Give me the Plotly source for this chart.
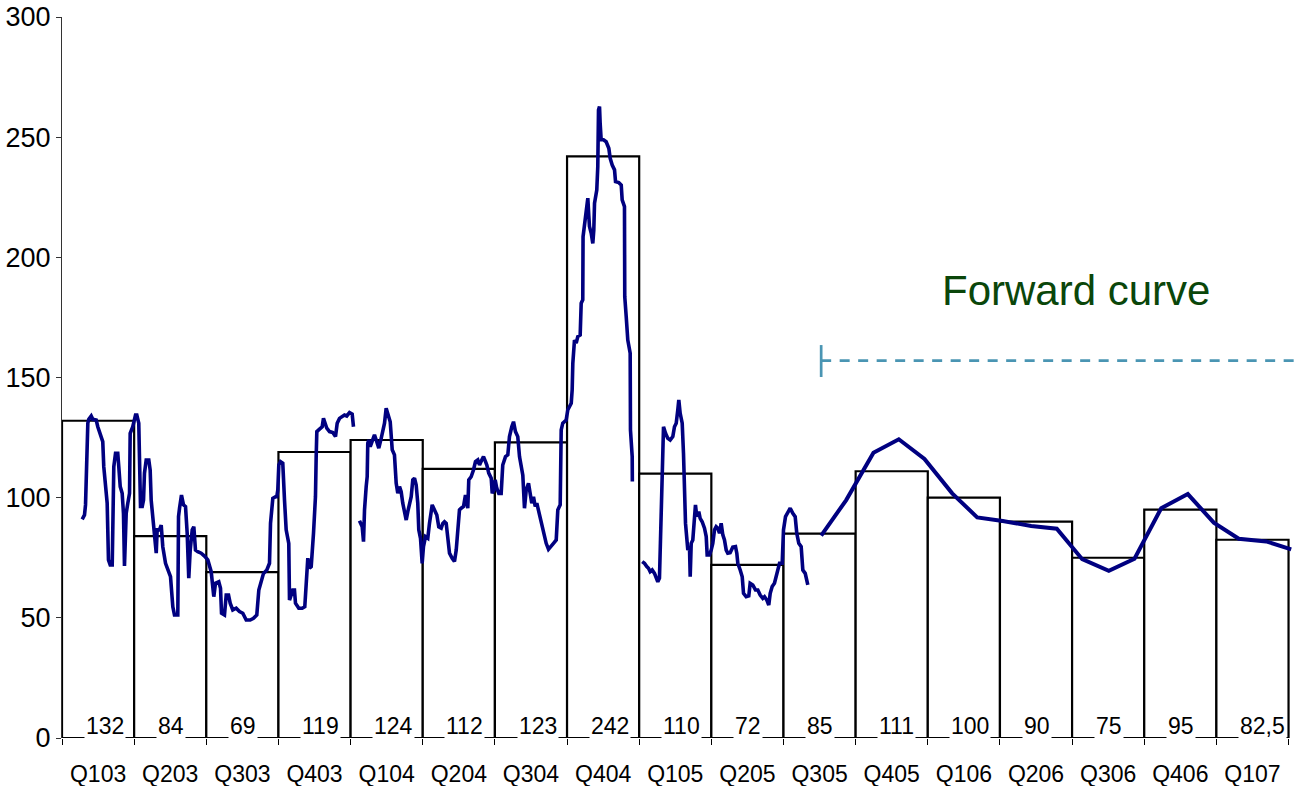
import plotly.graph_objects as go

# Quarter categories and the average price per quarter (bars)
quarters = ["Q103", "Q203", "Q303", "Q403", "Q104", "Q204", "Q304", "Q404", "Q105",
            "Q205", "Q305", "Q405", "Q106", "Q206", "Q306", "Q406", "Q107"]
quarter_avg = [132, 84, 69, 119, 124, 112, 123, 242, 110, 72, 85, 111, 100, 90, 75, 95, 82.5]

# Daily price history, x measured in quarter units (0 = middle of Q103)
hist1_x = [-0.220, -0.188, -0.174, -0.165, -0.151, -0.142, -0.129, -0.095, -0.073, -0.026,
           -0.004, 0.043, 0.065, 0.079, 0.103, 0.126, 0.144, 0.168, 0.196, 0.204,
           0.218, 0.242, 0.273, 0.287, 0.307, 0.334, 0.352, 0.366, 0.376, 0.390,
           0.412, 0.436, 0.445, 0.481, 0.519, 0.537, 0.564, 0.574, 0.588, 0.612,
           0.630, 0.643, 0.667, 0.703, 0.722, 0.736, 0.758, 0.782, 0.806, 0.819,
           0.851, 0.875, 0.897, 0.935, 0.966, 1.004, 1.036, 1.059, 1.105, 1.115,
           1.129, 1.156, 1.184, 1.212, 1.235, 1.257, 1.277, 1.305, 1.327, 1.350,
           1.382, 1.429, 1.475, 1.521, 1.568, 1.590, 1.604, 1.627, 1.673, 1.697,
           1.711, 1.752, 1.776, 1.808, 1.831, 1.867, 1.914, 1.960, 2.006, 2.053,
           2.108, 2.154, 2.200, 2.228, 2.261, 2.293, 2.339, 2.376, 2.390, 2.422,
           2.459, 2.477, 2.491, 2.505, 2.528, 2.560, 2.584, 2.607, 2.643, 2.653,
           2.685, 2.699, 2.722, 2.736, 2.782, 2.829, 2.865, 2.885, 2.907, 2.930,
           2.954, 2.986, 3.013, 3.023, 3.032, 3.069, 3.106, 3.124, 3.148, 3.170,
           3.208, 3.253, 3.291, 3.314, 3.346, 3.384, 3.415, 3.447, 3.485, 3.522,
           3.540]
hist1_y = [91.0, 92.8, 97.0, 108.7, 115.7, 131.0, 132.6, 134.0, 132.6, 132.3,
           129.5, 125.4, 123.3, 112.9, 103.2, 97.7, 74.1, 72.0, 72.0, 86.6,
           112.9, 118.5, 118.5, 112.9, 104.6, 101.8, 93.5, 71.6, 86.6, 93.5,
           97.7, 101.8, 126.8, 129.5, 134.4, 134.4, 131.0, 117.1, 96.3, 96.3,
           99.0, 110.2, 115.7, 115.7, 111.5, 99.0, 92.1, 87.9, 76.9, 86.6,
           86.6, 88.6, 79.6, 72.7, 69.9, 67.1, 54.6, 51.2, 51.2, 92.1,
           95.6, 101.1, 97.0, 96.3, 85.2, 66.5, 78.2, 86.6, 87.9, 78.2,
           77.5, 76.9, 75.7, 74.1, 69.2, 64.4, 58.8, 64.4, 65.0, 62.3,
           51.9, 51.2, 59.5, 59.5, 56.1, 53.3, 54.0, 52.6, 51.9, 49.1,
           49.1, 49.8, 51.2, 61.6, 65.0, 68.5, 69.9, 72.7, 89.3, 99.7,
           100.4, 100.4, 103.2, 113.6, 115.0, 114.3, 99.0, 86.6, 81.0, 57.4,
           60.2, 61.6, 61.6, 56.1, 54.0, 54.0, 54.6, 67.1, 74.8, 70.6,
           71.3, 85.2, 100.4, 117.1, 127.5, 128.5, 129.5, 133.0, 131.0, 128.9,
           127.5, 127.1, 125.4, 131.0, 133.0, 134.0, 134.4, 134.0, 135.4, 134.8,
           129.5]

hist2_x = [3.623, 3.661, 3.679, 3.693, 3.716, 3.730, 3.738, 3.752, 3.772, 3.799,
           3.831, 3.855, 3.891, 3.924, 3.946, 3.970, 3.993, 4.016, 4.049, 4.077,
           4.108, 4.132, 4.154, 4.178, 4.201, 4.223, 4.247, 4.271, 4.293, 4.316,
           4.340, 4.362, 4.386, 4.409, 4.431, 4.445, 4.469, 4.492, 4.510, 4.538,
           4.570, 4.593, 4.631, 4.663, 4.695, 4.722, 4.756, 4.778, 4.801, 4.825,
           4.847, 4.871, 4.908, 4.940, 4.964, 4.986, 5.009, 5.033, 5.065, 5.092,
           5.124, 5.138, 5.171, 5.203, 5.231, 5.263, 5.287, 5.318, 5.342, 5.370,
           5.388, 5.415, 5.449, 5.463, 5.485, 5.504, 5.526, 5.554, 5.587, 5.609,
           5.647, 5.679, 5.702, 5.734, 5.758, 5.785, 5.817, 5.841, 5.864, 5.887,
           5.910, 5.934, 5.966, 5.989, 6.011, 6.035, 6.059, 6.081, 6.104, 6.128,
           6.150, 6.178, 6.211, 6.243, 6.280, 6.312, 6.350, 6.372, 6.405, 6.419,
           6.441, 6.488, 6.510, 6.558, 6.571, 6.580, 6.603, 6.627, 6.649, 6.682,
           6.696, 6.718, 6.722, 6.742, 6.765, 6.788, 6.801, 6.811, 6.835, 6.857,
           6.871, 6.881, 6.912, 6.926, 6.936, 6.950, 6.959, 6.973, 7.005, 7.042,
           7.079, 7.098, 7.126, 7.158, 7.172, 7.217, 7.251, 7.264, 7.296, 7.300,
           7.320, 7.342, 7.375, 7.379, 7.403, 7.405]
hist2_y = [90.4, 87.9, 81.7, 94.9, 104.6, 108.7, 122.6, 124.0, 121.2, 124.0,
           126.1, 124.0, 120.6, 124.7, 127.5, 131.0, 137.2, 135.1, 131.6, 119.9,
           117.8, 106.0, 101.8, 104.6, 102.5, 97.7, 93.5, 90.7, 94.2, 97.0,
           100.4, 107.4, 108.1, 105.3, 97.7, 86.6, 83.1, 72.7, 79.6, 83.8,
           83.1, 89.3, 97.0, 94.9, 92.8, 87.9, 87.3, 89.3, 90.0, 89.3,
           83.8, 76.9, 74.8, 73.4, 78.2, 85.9, 94.9, 95.6, 96.3, 101.1,
           95.6, 107.4, 108.7, 111.5, 115.0, 115.7, 113.6, 115.7, 117.1, 115.0,
           113.6, 110.2, 108.1, 101.8, 103.2, 107.4, 103.9, 101.8, 101.8, 113.6,
           117.1, 117.8, 125.4, 129.5, 131.6, 127.5, 125.4, 117.1, 113.6, 109.4,
           95.6, 103.2, 106.0, 100.4, 97.7, 100.4, 96.3, 97.7, 94.9, 92.1,
           87.9, 85.2, 81.0, 78.5, 79.6, 81.0, 82.4, 94.9, 97.0, 128.2,
           131.0, 132.3, 136.5, 139.3, 144.8, 155.9, 165.6, 164.3, 167.0, 167.7,
           180.9, 182.3, 208.6, 214.2, 220.4, 224.6, 217.6, 212.8, 210.0, 205.8,
           211.4, 222.5, 228.0, 237.7, 261.3, 262.7, 255.8, 248.9, 248.9, 248.1,
           245.4, 241.2, 238.4, 236.4, 231.5, 231.1, 230.1, 223.9, 221.1, 183.6,
           175.3, 165.6, 160.1, 128.2, 117.1, 106.7]

hist3_x = [7.542, 7.573, 7.605, 7.629, 7.652, 7.680, 7.712, 7.736, 7.758, 7.781,
           7.791, 7.805, 7.813, 7.819, 7.837, 7.865, 7.896, 7.930, 7.966, 7.989,
           8.013, 8.035, 8.049, 8.068, 8.096, 8.114, 8.128, 8.142, 8.174, 8.197,
           8.207, 8.221, 8.243, 8.266, 8.280, 8.298, 8.326, 8.345, 8.373, 8.405,
           8.429, 8.442, 8.474, 8.498, 8.520, 8.544, 8.567, 8.589, 8.613, 8.636,
           8.659, 8.682, 8.706, 8.728, 8.761, 8.797, 8.835, 8.853, 8.867, 8.900,
           8.928, 8.946, 8.983, 9.019, 9.038, 9.074, 9.112, 9.144, 9.177, 9.213,
           9.237, 9.269, 9.296, 9.316, 9.343, 9.375, 9.399, 9.421, 9.445, 9.482,
           9.500, 9.528, 9.559, 9.593, 9.629, 9.662, 9.684, 9.712, 9.745, 9.768,
           9.801, 9.815, 9.837]
hist3_y = [73.4, 72.7, 71.3, 70.6, 69.2, 69.9, 68.5, 67.1, 65.0, 66.5,
           78.2, 89.3, 110.2, 119.8, 129.5, 126.8, 124.7, 124.0, 125.4, 129.5,
           131.0, 136.5, 140.7, 135.1, 131.0, 118.5, 103.2, 89.3, 78.2, 79.6,
           67.1, 81.0, 82.4, 89.3, 97.0, 92.1, 94.2, 91.4, 90.0, 87.3,
           83.8, 76.2, 76.2, 78.2, 81.0, 86.6, 87.9, 87.3, 85.2, 89.3,
           84.5, 82.4, 78.2, 76.9, 77.1, 79.4, 79.6, 76.9, 72.7, 69.9,
           67.1, 60.2, 58.8, 59.1, 64.4, 63.7, 61.6, 61.6, 59.5, 58.1,
           58.8, 57.4, 55.3, 60.2, 63.0, 64.4, 67.1, 70.6, 72.7, 72.7,
           86.6, 92.1, 93.5, 95.6, 93.5, 92.1, 85.2, 81.0, 79.6, 69.9,
           68.5, 65.7, 63.7]

# Monthly forward curve
fwd_x = [10.022, 10.369, 10.747, 11.098, 11.454, 11.838, 12.185, 12.539, 12.933, 13.288,
         13.640, 14.009, 14.365, 14.735, 15.104, 15.464, 15.810, 16.190, 16.537]
fwd_y = [84.2, 99.0, 118.7, 124.3, 116.1, 101.8, 91.8, 90.3, 88.2, 87.1,
         74.4, 69.6, 74.6, 95.6, 101.5, 89.6, 82.9, 81.8, 78.5]

# Marker showing where the forward curve begins
FWD_MARK_LEVEL = 157
FWD_MARK_SPAN = (150.2, 163.5)

X_MIN, X_MAX = -0.5, 16.645
FONT = "Liberation Sans, Arial, sans-serif"
NAVY = "#000080"


def fmt_value(v):
    return str(int(v)) if float(v).is_integer() else str(v).replace(".", ",")


history_x = hist1_x + [None] + hist2_x + [None] + hist3_x
history_y = hist1_y + [None] + hist2_y + [None] + hist3_y

fig = go.Figure()

fig.add_trace(go.Bar(
    x=list(range(len(quarters))), y=quarter_avg, width=1,
    marker=dict(color="white", line=dict(color="black", width=2.2)),
    cliponaxis=False, hoverinfo="skip", showlegend=False,
))

fig.add_trace(go.Scatter(
    x=history_x, y=history_y, mode="lines", connectgaps=False,
    line=dict(color=NAVY, width=3.6), showlegend=False,
))

fig.add_trace(go.Scatter(
    x=fwd_x, y=fwd_y, mode="lines",
    line=dict(color=NAVY, width=4), showlegend=False,
))

# Dashed "forward" bracket
fig.add_trace(go.Scatter(
    x=[fwd_x[0], X_MAX], y=[FWD_MARK_LEVEL, FWD_MARK_LEVEL], mode="lines",
    line=dict(color="#4a95b3", width=2.7, dash="10px,8.5px"), showlegend=False,
))
fig.add_trace(go.Scatter(
    x=[fwd_x[0], fwd_x[0]], y=list(FWD_MARK_SPAN), mode="lines",
    line=dict(color="#4a95b3", width=2.7), showlegend=False,
))

# Value labels sitting on the baseline of each bar
for i, v in enumerate(quarter_avg):
    fig.add_annotation(
        x=i - 0.5 + 0.3, y=0, xref="x", yref="y",
        text=fmt_value(v), showarrow=False,
        xanchor="left", yanchor="bottom", yshift=-3,
        bgcolor="white", borderpad=1,
        font=dict(family=FONT, size=23, color="black"),
    )

fig.add_annotation(
    x=13.55, y=186, xref="x", yref="y", text="Forward curve", showarrow=False,
    xanchor="center", yanchor="middle",
    font=dict(family=FONT, size=42, color="#0a460a"),
)

fig.update_layout(
    width=1299, height=786,
    margin=dict(l=62, r=0, t=17, b=48),
    plot_bgcolor="white", paper_bgcolor="white",
    showlegend=False,
    xaxis=dict(
        range=[X_MIN, X_MAX],
        tickmode="array", tickvals=list(range(len(quarters))), ticktext=quarters,
        ticks="", showline=False, showgrid=False, zeroline=False,
        tickfont=dict(family=FONT, size=23, color="black"),
        ticklabelstandoff=20,
        minor=dict(tickmode="array", tickvals=[i - 0.5 for i in range(len(quarters) + 1)],
                   ticks="outside", ticklen=6, tickwidth=1, tickcolor="black",
                   showgrid=False),
    ),
    yaxis=dict(
        range=[0, 300], tickmode="array", tickvals=[0, 50, 100, 150, 200, 250, 300],
        ticks="outside", ticklen=5, tickwidth=1, tickcolor="#333",
        showline=True, linecolor="#333", linewidth=1,
        showgrid=False, zeroline=False,
        tickfont=dict(family=FONT, size=27, color="black"),
    ),
)

fig.write_html("out.html")
